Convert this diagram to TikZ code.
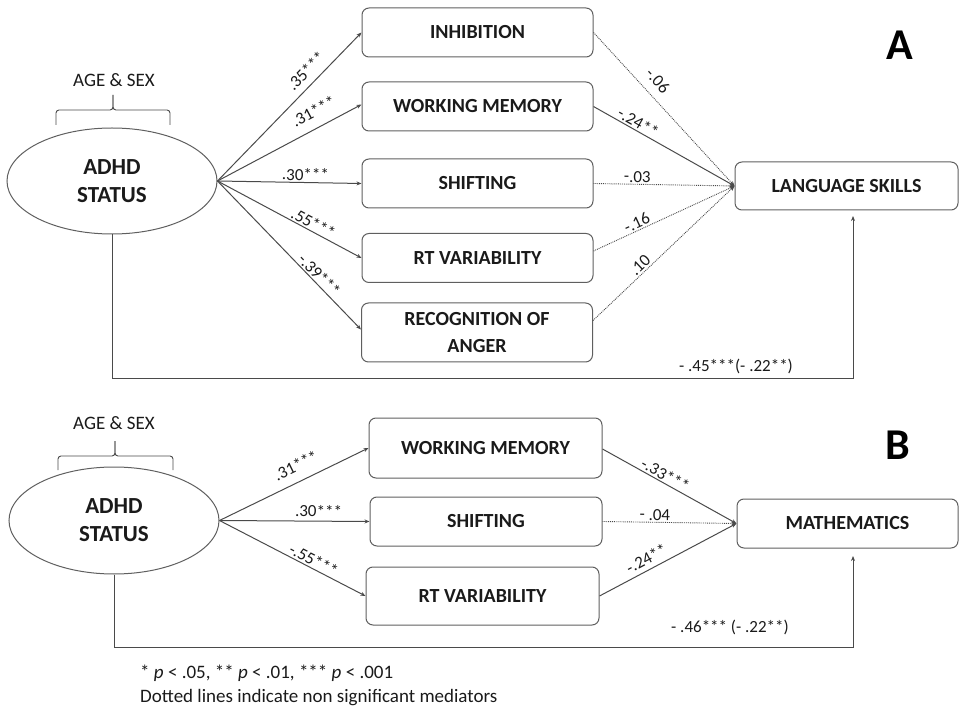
\documentclass[tikz,border=0pt]{standalone}
\usepackage{fontspec}
\setmainfont{Carlito}
\usetikzlibrary{arrows.meta,shapes.geometric}
\definecolor{ln}{HTML}{4A4A4A}
\definecolor{bd}{HTML}{5F5F5F}
\definecolor{tx}{HTML}{1A1A1A}
\begin{document}
\begin{tikzpicture}[x=1pt,y=-1pt,
  box/.style={draw=bd, line width=1pt, rounded corners=7pt, minimum width=231pt, minimum height=49pt, inner sep=0pt, font=\fontsize{20}{27}\selectfont\bfseries, text=tx, align=center},
  oval/.style={draw=bd, line width=1pt, ellipse, minimum width=210pt, minimum height=106pt, inner sep=0pt, font=\fontsize{23}{28}\selectfont\bfseries, text=tx, align=center},
  sig/.style={draw=ln, line width=1pt},
  ns/.style={draw=ln, line width=0.9pt, densely dotted},
  tip/.style={-{Stealth[length=5pt,width=4pt]}},
  lab/.style={font=\fontsize{17}{20}\selectfont, text=tx, sloped, above, inner sep=1.5pt},
  plain/.style={font=\fontsize{19}{22}\selectfont, text=tx, inner sep=0pt},
  panel/.style={font=\fontsize{44}{44}\selectfont\bfseries, text=black, inner sep=0pt},
  brc/.style={draw=ln, line width=0.9pt, rounded corners=3pt}
]
\path[use as bounding box] (0,0) rectangle (961,708);

% ---------------- Panel A ----------------
\node[panel] (pA) at (900,45) {A};
\node[plain] (ageA) at (114,80) {AGE \& SEX};
\draw[brc] (56,125) -- (56,110) -- (113,110) -- (113,95);
\draw[brc] (170,125) -- (170,110) -- (113,110) -- (113,95);

\node[oval] (adhdA) at (112,181) {ADHD\\STATUS};
\node[box] (inh) at (477.5,32.5) {INHIBITION};
\node[box] (wmA) at (477.5,106.5) {WORKING MEMORY};
\node[box] (shA) at (477.5,183.5) {SHIFTING};
\node[box] (rtA) at (477.5,258) {RT VARIABILITY};
\node[box, minimum height=59pt] (recA) at (477,332.5) {RECOGNITION OF\\ANGER};
\node[box, minimum width=223pt, minimum height=48pt] (lang) at (846.5,186) {LANGUAGE SKILLS};

\draw[sig,tip] (adhdA.east) -- node[lab,pos=.68,above=5pt]{.35***} (inh.west);
\draw[sig,tip] (adhdA.east) -- node[lab,pos=.72,above=8pt]{.31***} ([yshift=2pt]wmA.west);
\draw[sig,tip] (adhdA.east) -- node[lab,pos=.61]{.30***} (shA.west);
\draw[sig,tip] (adhdA.east) -- node[lab,pos=.64]{.55***} (rtA.west);
\draw[sig,tip] (adhdA.east) -- node[lab,pos=.67]{-.39***} ([yshift=3pt]recA.west);

\draw[ns,tip] (inh.east) -- node[lab,pos=.38,above=7pt]{-.06} (lang.west);
\draw[sig,tip] (wmA.east) -- node[lab,pos=.29]{-.24**} (lang.west);
\draw[ns,tip] (shA.east) -- node[lab,pos=.31]{-.03} (lang.west);
\draw[ns,tip] ([yshift=7pt]rtA.east) -- node[lab,pos=.33]{-.16} (lang.west);
\draw[ns,tip] ([yshift=12pt]recA.east) -- node[lab,pos=.37]{.10} (lang.west);

\coordinate (cornA) at (853,379);
\coordinate (upA) at (853,216);
\draw[sig,tip] (adhdA.south) |- (cornA) -- (upA);
\node[plain, font=\fontsize{17}{20}\selectfont] (dirA) at (736,366) {- .45***(- .22**)};

% ---------------- Panel B ----------------
\node[panel] (pB) at (898,445) {B};
\node[plain] (ageB) at (114,423) {AGE \& SEX};
\draw[brc] (58,470) -- (58,456) -- (115,456) -- (115,441);
\draw[brc] (173,470) -- (173,456) -- (115,456) -- (115,441);

\node[oval, minimum height=107pt] (adhdB) at (114,520.5) {ADHD\\STATUS};
\node[box, minimum width=233pt, minimum height=60pt] (wmB) at (485.5,448) {WORKING MEMORY};
\node[box, minimum width=232pt] (shB) at (486,521.5) {SHIFTING};
\node[box, minimum width=233pt, minimum height=58pt] (rtB) at (482.5,596) {RT VARIABILITY};
\node[box, minimum width=221pt, minimum height=49pt] (math) at (847.5,523.5) {MATHEMATICS};

\draw[sig,tip] (adhdB.east) -- node[lab,pos=.56,above=8pt]{.31***} (wmB.west);
\draw[sig,tip] (adhdB.east) -- node[lab,pos=.66,above=2pt]{.30***} (shB.west);
\draw[sig,tip] (adhdB.east) -- node[lab,pos=.62]{-.55***} (rtB.west);

\draw[sig,tip] ([yshift=-1pt]wmB.east) -- node[lab,pos=.44]{-.33***} (math.west);
\draw[ns,tip] (shB.east) -- node[lab,pos=.39]{- .04} (math.west);
\draw[sig,tip] (rtB.east) -- node[lab,pos=.38,above=3pt]{-.24**} (math.west);

\coordinate (cornB) at (853,647);
\coordinate (upB) at (853,556);
\draw[sig,tip] (adhdB.south) |- (cornB) -- (upB);
\node[plain, font=\fontsize{17}{20}\selectfont] (dirB) at (730,627) {- .46*** (- .22**)};

% ---------------- Footnote ----------------
\node[plain, anchor=base west] (fn1) at (140,678) {* \textit{p} < .05, ** \textit{p} < .01, *** \textit{p} < .001};
\node[plain, anchor=base west] (fn2) at (140,702) {Dotted lines indicate non significant mediators};
\end{tikzpicture}
\end{document}
